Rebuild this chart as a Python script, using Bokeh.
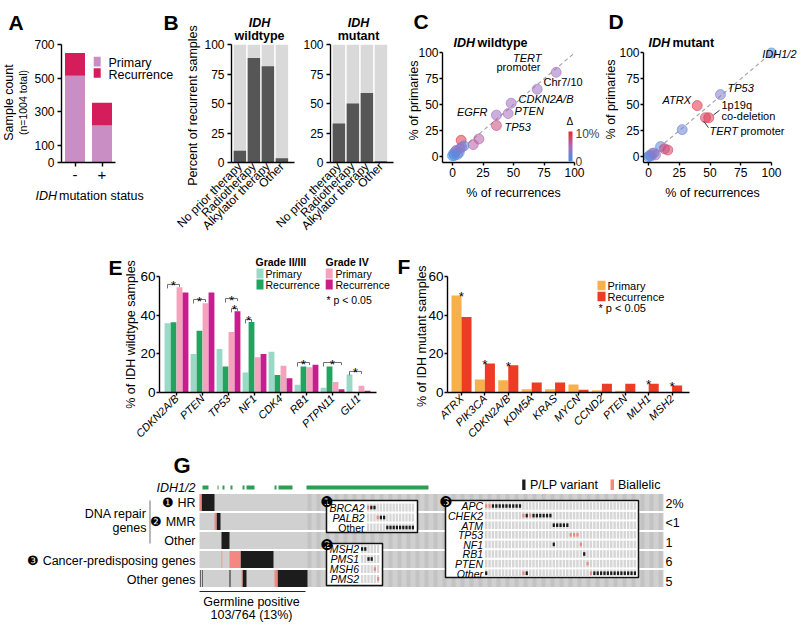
from math import pi
import numpy as np
from bokeh.plotting import figure
from bokeh.models import (Range1d, FixedTicker, Label, ColumnDataSource,
                          LinearColorMapper, ColorBar)
from bokeh.transform import transform
from bokeh.layouts import row, column
from bokeh.embed import file_html
from bokeh.resources import INLINE

FONT = "Liberation Sans"

# ---------------- data ----------------
a_status = ["-", "+"]
a_primary = [515, 220]
a_recurrence = [135, 134]
a_yticks = [0, 100, 300, 500, 700]

b_therapy = ["No prior therapy", "Radiotherapy", "Alkylator therapy", "Other"]
b_wildtype = [10, 88.5, 81.5, 3.5]
b_mutant = [33, 50, 59, 1]
b_yticks = [0, 25, 50, 75, 100]

sc_ticks = [0, 25, 50, 75, 100]
diag = [0, 100]
c_rec = [85, 69.4, 48.1, 45.6, 36, 36, 21.6, 17, 7.1, 9.3, 6, 2.5, 4, 1.5, 0, 3, 5.5, 1, 7.5]
c_prim = [81.3, 65, 51.5, 41.5, 40, 30, 17, 11.6, 15.7, 10.3, 7.6, 4.9, 2, 1, 0.8, 6, 4, 3, 9]
c_delta = [5, 5, 5, 5.5, 5, 8, 6.5, 6.5, 10, 0, 4, 3, 1, 0, 0, 5, 2, 1, 4]
d_rec = [100, 58.5, 39.6, 49, 46.3, 27.4, 9.8, 15.7, 13, 5.7, 1, 0, 2, 4.5, 3]
d_prim = [100, 59.8, 49.2, 37.5, 37.5, 26, 9.6, 6.3, 7.5, 1.6, 1, 0, 0.5, 3.5, 3]
d_delta = [1, 3, 10, 10, 9, 2, 1, 9, 8, 5, 0, 0, 1, 3, 4]

e_genes = ["CDKN2A/B", "PTEN", "TP53", "NF1", "CDK4", "RB1", "PTPN11", "GLI1"]
e_g23_primary = [35.8, 19.9, 22.5, 10.4, 21.1, 4, 2.4, 9.3]
e_g23_recurrence = [36.3, 32, 13.5, 36.5, 9, 13.5, 13.5, 0]
e_g4_primary = [54.5, 46.2, 31.3, 18.2, 13.8, 13, 5.4, 3.5]
e_g4_recurrence = [51.7, 51.7, 42, 19.9, 7.4, 14.4, 1.7, 0.9]
e_sig_gene = [0, 1, 2, 2, 3, 5, 6, 7]
e_sig_from = [0, 0, 1, 2, 0, 0, 0, 0]
e_sig_to = [2, 2, 3, 3, 1, 2, 3, 2]
e_sig_height = [55.9, 48.1, 48.6, 43.5, 37.8, 15.5, 15.5, 10.9]
e_yticks = [0, 20, 40, 60]

f_genes = ["ATRX", "PIK3CA", "CDKN2A/B", "KDM5A", "KRAS", "MYCN", "CCND2", "PTEN", "MLH1", "MSH2"]
f_primary = [50.2, 6.7, 6.4, 1.7, 1.7, 4.1, 1.2, 0.9, 0.3, 0.3]
f_recurrence = [39, 15, 14.1, 5.2, 5.2, 1.4, 4.5, 4.5, 4.5, 3.6]
f_sig = [0, 1, 2, 8, 9]

g_rows = ["\u2776 HR", "\u2777 MMR", "Other", "\u2778 Cancer-predisposing genes", "Other genes"]
g_pct = ["2%", "<1", "1", "6", "5"]
g_ncols = 464
g_positive = 106
g_idh_start = [3, 18, 23, 31, 43, 47, 75, 79, 107]
g_idh_len = [6, 1, 2, 2, 2, 8, 2, 14, 122]
g_plp_row = [0, 1, 2, 3, 4, 4, 4, 4, 4]
g_plp_start = [2, 17, 22, 41, 0.5, 2.5, 30, 43, 78]
g_plp_len = [13, 4, 8, 33, 0.6, 0.6, 1, 4, 30]
g_bi_row = [0, 1, 3, 3, 4, 4]
g_bi_start = [0, 15, 22, 30, 42, 75]
g_bi_len = [2, 2, 0.8, 11, 1, 3]

i1_genes = ["BRCA2", "PALB2", "Other"]
i1_plp = [[1, 2], [4, 5], [6, 7, 8, 9, 10, 11, 12, 13, 14]]
i1_bi = [[0], [3], []]
i2_genes = ["MSH2", "PMS1", "MSH6", "PMS2"]
i2_plp = [[0, 1], [2, 3], [], []]
i2_bi = [[], [], [4], [5]]
i3_genes = ["APC", "CHEK2", "ATM", "TP53", "NF1", "RB1", "PTEN", "Other"]
i3_plp = [[2, 3, 4, 5, 6, 7, 8, 9, 10], [12, 14, 15, 16, 17, 18, 19], [20, 21, 22, 23, 24],
          [], [20], [29], [], [0, 12] + list(range(32, 45))]
i3_bi = [[0, 1], [11, 13], [], [25, 26, 27], [28], [], [30], [11, 31]]

# ---------------- styles ----------------
A_PRIM, A_REC = "#c98fc4", "#d51d5c"
B_BG, B_FG = "#d9d9d9", "#565656"
E_COLS = ["#9ad9c7", "#21a45f", "#f5a3bc", "#cb1c8d"]
F_PRIM, F_REC = "#f9b04c", "#ee3c24"
G_PLP, G_BI, G_GRAY, G_GREEN = "#1c1c1c", "#f4877f", "#d0d0d0", "#2f9e55"
W, H = 798, 622


def make_palette():
    stops = [(0.0, (74, 144, 226)), (0.5, (168, 108, 192)), (1.0, (240, 40, 45))]
    pal = []
    for t in np.linspace(0, 1, 256):
        for (t0, c0), (t1, c1) in zip(stops[:-1], stops[1:]):
            if t0 <= t <= t1:
                u = (t - t0) / (t1 - t0)
                c = [int(round(a + (b - a) * u)) for a, b in zip(c0, c1)]
                pal.append("#%02x%02x%02x" % tuple(c))
                break
    return pal


PAL = make_palette()


class Geo:
    def __init__(s, fl, fr, ft, fb, xr, yr):
        s.fl, s.fr, s.ft, s.fb, s.xr, s.yr = fl, fr, ft, fb, xr, yr

    def x(s, px):
        return s.xr[0] + (px - s.fl) * (s.xr[1] - s.xr[0]) / (s.fr - s.fl)

    def y(s, py):
        return s.yr[0] + (s.fb - py) * (s.yr[1] - s.yr[0]) / (s.fb - s.ft)

    def w(s, d):
        return d * (s.xr[1] - s.xr[0]) / (s.fr - s.fl)

    def h(s, d):
        return d * (s.yr[1] - s.yr[0]) / (s.fb - s.ft)


def panel(cl, ct, cw, ch, fl, fr, ft, fb, xr, yr, axes=True, margin=(0, 0, 0, 0)):
    kw = {}
    if not axes:
        kw.update(x_axis_location=None, y_axis_location=None)
    p = figure(width=cw, height=ch, x_range=Range1d(*xr), y_range=Range1d(*yr),
               output_backend="svg", toolbar_location=None, title=None,
               min_border_left=fl - cl, min_border_right=cl + cw - fr,
               min_border_top=ft - ct, min_border_bottom=ct + ch - fb,
               margin=margin, **kw)
    p.grid.visible = False
    p.outline_line_color = None
    p.background_fill_color = None
    p.border_fill_color = None
    for ax in p.axis:
        ax.axis_line_color = "black"
        ax.axis_line_width = 1.4
        ax.major_tick_line_color = "black"
        ax.major_tick_line_width = 1.4
        ax.major_tick_out = 4
        ax.major_tick_in = 0
        ax.minor_tick_line_color = None
        ax.major_label_text_font = FONT
        ax.major_label_text_font_size = "12px"
        ax.major_label_text_color = "black"
        ax.major_label_standoff = 3
    return p, Geo(fl, fr, ft, fb, xr, yr)


def lab(p, g, px, py, text, size=12.5, style="normal", align="left",
        baseline="middle", angle=0, color="black", font=FONT):
    p.add_layout(Label(x=g.x(px), y=g.y(py), text=text, text_font=font,
                       text_font_size=f"{size}px", text_font_style=style,
                       text_align=align, text_baseline=baseline, angle=angle,
                       text_color=color))


# transparent full-page layer that carries the free-standing texts
ov, go = panel(0, 0, W, H, 0, W, 0, H, (0, W), (H, 0), axes=False, margin=(-H, 0, 0, 0))


def T(px, py, text, size=12.5, style="normal", align="left", baseline="middle", angle=0):
    lab(ov, go, px, py, text, size, style, align, baseline, angle)


def letter(px, py, t, size=21):
    T(px, py, t, size, "bold", baseline="alphabetic")

# ---------------- A ----------------
pa, ga = panel(0, 0, 185, 240, 61, 115, 44, 168, (-0.5, 1.5), (0, 700))
xa = list(range(len(a_status)))
a_total = [p_ + r_ for p_, r_ in zip(a_primary, a_recurrence)]
pa.vbar(x=xa, bottom=0, top=a_primary, width=0.74, fill_color=A_PRIM, line_color=None)
pa.vbar(x=xa, bottom=a_primary, top=a_total, width=0.74, fill_color=A_REC, line_color=None)
pa.yaxis.ticker = FixedTicker(ticks=a_yticks)
pa.xaxis.ticker = FixedTicker(ticks=xa)
pa.xaxis.major_label_overrides = {i: s for i, s in enumerate(a_status)}
pa.xaxis.major_label_text_font_size = "15px"
pa.rect(x=[ga.x(96.7)] * 2, y=[ga.y(62), ga.y(74)], width=ga.w(7), height=ga.h(10),
        fill_color=[A_PRIM, A_REC], line_color=None)
T(108, 62, "Primary", 12.5)
T(108, 74, "Recurrence", 12.5)
T(8, 102, "Sample count", 12.5, align="center", angle=pi / 2)
T(22, 102, "(n=1004 total)", 10.5, align="center", angle=pi / 2)
T(35, 195, "IDH", 12.5, style="italic")
T(58.5, 195, "mutation status", 12.5)
letter(8, 22, "A")
letter(163, 22, "B")

# ---------------- B ----------------
def panel_b(cl, cw, fl, ml, vals, word, cx):
    p, g = panel(cl, 0, cw, 240, fl, fl + 63, 44, 166, (-0.6, 3.9), (0, 100), margin=(0, 0, 0, ml))
    xb = list(range(len(b_therapy)))
    p.vbar(x=xb, bottom=0, top=100, width=0.89, fill_color=B_BG, line_color=None)
    p.vbar(x=xb, bottom=0, top=vals, width=0.89, fill_color=B_FG, line_color=None)
    p.yaxis.ticker = FixedTicker(ticks=b_yticks)
    p.xaxis.ticker = FixedTicker(ticks=xb)
    p.xaxis.major_label_overrides = {i: s for i, s in enumerate(b_therapy)}
    p.xaxis.major_label_orientation = pi / 4
    p.xaxis.major_tick_line_color = None
    p.xaxis.major_tick_out = 0
    p.xaxis.major_label_standoff = 2
    T(cx, 22, "IDH", 12.5, style="bold italic", align="center")
    T(cx, 35, word, 12.5, style="bold", align="center")
    return p

pbw = panel_b(170, 140, 231, -15, b_wildtype, "wildtype", 259)
pbm = panel_b(270, 130, 330, -40, b_mutant, "mutant", 358)
T(192, 105, "Percent of recurrent samples", 12.5, align="center", angle=pi / 2)

# ---------------- C / D ----------------
mapper = LinearColorMapper(palette=PAL, low=0, high=11)


def scatter_panel(cl, cw, fl, fr, fb, x0px, pxu_x, y0px, pxu_y, xs, ys, ds):
    xr = ((fl - x0px) / pxu_x, (fr - x0px) / pxu_x)
    yr = (-(fb - y0px) / pxu_y, (y0px - 28) / pxu_y)
    p, g = panel(cl, 0, cw, 240, fl, fr, 28, fb, xr, yr)
    p.xaxis.bounds = (xr[0], 100)
    p.yaxis.bounds = (yr[0], 100)
    p.xaxis.ticker = FixedTicker(ticks=sc_ticks)
    p.yaxis.ticker = FixedTicker(ticks=sc_ticks)
    for ax in p.axis:
        ax.major_label_text_font_size = "12px"
        ax.major_tick_out = 3
    p.yaxis.major_label_standoff = 1
    p.xaxis.major_label_standoff = 2
    p.line(x=diag, y=diag, line_color="#a8a8a8", line_dash="4 3", line_width=1.2)
    src = ColumnDataSource(dict(x=xs, y=ys, d=ds))
    p.scatter(x="x", y="y", source=src, size=10, fill_color=transform("d", mapper),
              line_color=transform("d", mapper), fill_alpha=0.55, line_alpha=0.6, line_width=1)
    return p, g

pc, gc = scatter_panel(400, 200, 442, 598, 168, 452, 1.22, 161, 1.23, c_rec, c_prim, c_delta)
letter(413, 21, "C")
T(453, 42, "IDH", 12.5, style="bold italic")
T(477, 42, "wildtype", 12.5, style="bold")
T(413, 100, "% of primaries", 12.5, align="center", angle=pi / 2)
T(513, 192, "% of recurrences", 12.5, align="center")
T(541, 57, "TERT", 11, style="italic", align="right")
T(540, 66.5, "promoter", 11, align="right")
T(543, 81.5, "Chr7/10", 11)
T(518, 98.5, "CDKN2A/B", 11, style="italic")
T(514, 110.5, "PTEN", 11, style="italic")
T(487, 111.5, "EGFR", 11, style="italic", align="right")
T(504, 126.5, "TP53", 11, style="italic")
T(566, 121, "\u0394", 10)
cb = ColorBar(color_mapper=mapper, location=(126, 1), orientation="vertical",
              width=4, height=30, padding=0, margin=0,
              ticker=FixedTicker(ticks=[0, 10]), major_label_overrides={0: "0", 10: "10%"},
              major_label_text_font=FONT, major_label_text_font_size="12px",
              major_tick_line_color=None, bar_line_color=None,
              background_fill_color=None, border_line_color=None, label_standoff=3)
pc.add_layout(cb)

pd_, gd = scatter_panel(600, 198, 643, 796, 167, 648, 1.23, 160, 1.22, d_rec, d_prim, d_delta)
letter(608, 21, "D")
T(648, 42, "IDH", 12.5, style="bold italic")
T(672, 42, "mutant", 12.5, style="bold")
T(610, 99, "% of primaries", 12.5, align="center", angle=pi / 2)
T(712, 192, "% of recurrences", 12.5, align="center")
T(796, 53, "IDH1/2", 11, style="italic", align="right")
T(727, 87, "TP53", 11, style="italic")
T(690.5, 99.5, "ATRX", 11, style="italic", align="right")
T(721, 104, "1p19q", 11)
T(721, 115.5, "co-deletion", 11)
T(709, 130, "TERT", 11, style="italic")
T(740, 130, "promoter", 11)
pd_.segment(x0=[gd.x(713), gd.x(703)], y0=[gd.y(111), gd.y(118)],
            x1=[gd.x(719), gd.x(708)], y1=[gd.y(105.5), gd.y(126)],
            line_color="#333333", line_width=1)

# ---------------- E ----------------
pe, ge = panel(0, 240, 390, 206, 159, 390, 250, 392, (-0.654, 8.231), (0, 73.45))
offs = [-0.346, -0.115, 0.115, 0.346]
e_series = [e_g23_primary, e_g23_recurrence, e_g4_primary, e_g4_recurrence]
xe = list(range(len(e_genes)))
for k, (vals, col) in enumerate(zip(e_series, E_COLS)):
    pe.vbar(x=[i + offs[k] for i in xe], bottom=0, top=vals, width=0.225,
            fill_color=col, line_color=None)


def style_ef(p, xb, genes):
    p.xaxis.bounds = xb
    p.yaxis.bounds = (0, 60)
    p.yaxis.ticker = FixedTicker(ticks=e_yticks)
    p.yaxis.major_label_text_font_size = "13.5px"
    p.yaxis.major_tick_out = 3
    p.yaxis.major_label_standoff = 1
    p.xaxis.ticker = FixedTicker(ticks=list(range(len(genes))))
    p.xaxis.major_label_overrides = {i: s for i, s in enumerate(genes)}
    p.xaxis.major_label_orientation = pi / 4
    p.xaxis.major_label_text_font_style = "italic"
    p.xaxis.major_label_text_font_size = "11px"
    p.xaxis.major_tick_out = 3
    p.xaxis.major_label_standoff = 1


style_ef(pe, (-0.654, 7.692), e_genes)
bxs, bys = [], []
for gi, a, b, yv in zip(e_sig_gene, e_sig_from, e_sig_to, e_sig_height):
    xa_, xb_ = gi + offs[a], gi + offs[b]
    bxs.append([xa_, xa_, xb_, xb_])
    bys.append([yv - ge.h(4), yv, yv, yv - ge.h(2.5)])
    pe.add_layout(Label(x=(xa_ + xb_) / 2, y=yv + ge.h(-1.5), text="*", text_font=FONT,
                        text_font_size="13.5px", text_align="center",
                        text_baseline="alphabetic", text_color="black"))
pe.multi_line(xs=bxs, ys=bys, line_color="#707070", line_width=1)
pe.rect(x=[ge.x(259.5), ge.x(259.5), ge.x(328.7), ge.x(328.7)],
        y=[ge.y(273), ge.y(284), ge.y(273), ge.y(284)],
        width=ge.w(7), height=ge.h(10), fill_color=E_COLS, line_color=None)
T(255, 261, "Grade II/III", 10.5, style="bold")
T(265, 273, "Primary", 10.5)
T(265, 284, "Recurrence", 10.5)
T(325, 261, "Grade IV", 10.5, style="bold")
T(335, 273, "Primary", 10.5)
T(335, 284, "Recurrence", 10.5)
T(326, 299, "* p < 0.05", 10.5)
T(130, 334, "% of IDH wildtype samples", 12.5, align="center", angle=pi / 2)
letter(108, 267, "E")

# ---------------- F ----------------
pf, gf = panel(390, 240, 408, 206, 447, 798, 250, 392,
               (-0.598, (798 - 461) / 23.4), (0, 73.45))
xf = list(range(len(f_genes)))
pf.vbar(x=[i - 0.214 for i in xf], bottom=0, top=f_primary, width=0.43,
        fill_color=F_PRIM, line_color=None)
pf.vbar(x=[i + 0.214 for i in xf], bottom=0, top=f_recurrence, width=0.43,
        fill_color=F_REC, line_color=None)
style_ef(pf, (-0.598, 9.744), f_genes)
for i in f_sig:
    top = max(f_primary[i], f_recurrence[i])
    pf.add_layout(Label(x=i, y=top + 3.2 + gf.h(-7), text="*", text_font=FONT,
                        text_font_size="13.5px", text_align="center",
                        text_baseline="alphabetic", text_color="black"))
pf.rect(x=[gf.x(601), gf.x(601)], y=[gf.y(285), gf.y(296)], width=gf.w(8),
        height=gf.h(9.5), fill_color=[F_PRIM, F_REC], line_color=None)
T(607, 285, "Primary", 11)
T(607, 296, "Recurrence", 11)
T(598, 307, "* p < 0.05", 11)
T(421, 334, "% of  IDH mutant samples", 12.5, align="center", angle=pi / 2)
letter(397, 266, "F")

# ---------------- G ----------------
pg, gg = panel(0, 446, W, 176, 0, W, 446, 622, (0 - 199, W - 199),
               ((622 - 502) / 19, (446 - 502) / 19), axes=False)
RH = 0.447
nrow = len(g_rows)
pg.quad(left=0, right=g_ncols, top=[r - RH for r in range(nrow)],
        bottom=[r + RH for r in range(nrow)], fill_color=G_GRAY, line_color=None)
band = np.arange(g_positive + 2, g_ncols - 3, 9.0)
bl, br, bt, bb = [], [], [], []
for r in range(nrow):
    bl += list(band)
    br += list(band + 4)
    bt += [r - RH] * len(band)
    bb += [r + RH] * len(band)
pg.quad(left=bl, right=br, top=bt, bottom=bb, fill_color="#c3c3c3", line_color=None)
pg.quad(left=g_plp_start, right=[s + l for s, l in zip(g_plp_start, g_plp_len)],
        top=[r - RH for r in g_plp_row], bottom=[r + RH for r in g_plp_row],
        fill_color=G_PLP, line_color=None)
pg.quad(left=g_bi_start, right=[s + l for s, l in zip(g_bi_start, g_bi_len)],
        top=[r - RH for r in g_bi_row], bottom=[r + RH for r in g_bi_row],
        fill_color=G_BI, line_color=None)
idh_y = gg.y(487)
pg.quad(left=g_idh_start, right=[s + l for s, l in zip(g_idh_start, g_idh_len)],
        top=idh_y - 0.11, bottom=idh_y + 0.11, fill_color=G_GREEN, line_color=None)

INSETS = [
    dict(box=(326, 500, 417, 532), labr=364, x0=366, pitch=3.2, y0=507, dy=10, ch=8,
         num="\u2776", genes=i1_genes, plp=i1_plp, bi=i1_bi, ncols=15,
         ital=[True, True, False]),
    dict(box=(326, 543, 382, 585), labr=358.5, x0=360, pitch=3.2, y0=548.5, dy=10, ch=8,
         num="\u2777", genes=i2_genes, plp=i2_plp, bi=i2_bi, ncols=6,
         ital=[True, True, True, True]),
    dict(box=(445, 500, 638, 577), labr=482.5, x0=484, pitch=3.38, y0=505.5, dy=9.6, ch=7.6,
         num="\u2778", genes=i3_genes, plp=i3_plp, bi=i3_bi, ncols=45,
         ital=[True] * 8),
]
for ins in INSETS:
    l, t, r, b = ins["box"]
    pg.quad(left=gg.x(l), right=gg.x(r), top=gg.y(t), bottom=gg.y(b),
            fill_color="white", line_color="#111111", line_width=1.5)
    cl_, cr_, ct_, cb_ = [], [], [], []
    dl, dr, dt, db, dc = [], [], [], [], []
    for ri, gene in enumerate(ins["genes"]):
        yc = ins["y0"] + ri * ins["dy"]
        for j in range(ins["ncols"]):
            xl = ins["x0"] + j * ins["pitch"]
            cl_.append(gg.x(xl + 0.45)); cr_.append(gg.x(xl + ins["pitch"] - 0.45))
            ct_.append(gg.y(yc - ins["ch"] / 2)); cb_.append(gg.y(yc + ins["ch"] / 2))
        for kind, cols in ((G_PLP, ins["plp"][ri]), (G_BI, ins["bi"][ri])):
            for j in cols:
                xc = ins["x0"] + (j + 0.5) * ins["pitch"]
                dl.append(gg.x(xc - 1.1)); dr.append(gg.x(xc + 1.1))
                dt.append(gg.y(yc - 1.8)); db.append(gg.y(yc + 1.8)); dc.append(kind)
        lab(pg, gg, ins["labr"], yc + 0.3, gene, 10.5,
            style="italic" if ins["ital"][ri] else "normal", align="right")
    pg.quad(left=cl_, right=cr_, top=ct_, bottom=cb_, fill_color="#d6d6d6", line_color=None)
    pg.quad(left=dl, right=dr, top=dt, bottom=db, fill_color=dc, line_color=None)
    lab(pg, gg, l + 0.5, t + 1, ins["num"], 15, align="center", font="DejaVu Sans")

row_py = [502, 521.5, 540.5, 560, 579.5]
for name, py, pct in zip(g_rows, row_py, g_pct):
    lab(pg, gg, 195, py, name, 12.5, align="right")
    lab(pg, gg, 665, py + 1, pct, 12.5)
lab(pg, gg, 195, 487, "IDH1/2", 12.5, style="italic", align="right")
lab(pg, gg, 146, 513.5, "DNA repair", 12.5, align="right")
lab(pg, gg, 146, 527, "genes", 12.5, align="right")
pg.segment(x0=[gg.x(149.5), gg.x(199)], y0=[gg.y(500), gg.y(591)],
           x1=[gg.x(149.5), gg.x(305)], y1=[gg.y(543), gg.y(591)],
           line_color=["#888888", "#222222"], line_width=1.2)
pg.quad(left=[gg.x(521.7), gg.x(610)], right=[gg.x(525), gg.x(613.5)],
        top=gg.y(479), bottom=gg.y(489.5), fill_color=[G_PLP, G_BI], line_color=None)
lab(pg, gg, 529.5, 484.5, "P/LP variant", 12.5)
lab(pg, gg, 617.5, 484.5, "Biallelic", 12.5)
lab(pg, gg, 251, 601.5, "Germline positive", 12.5, align="center")
lab(pg, gg, 251, 614, "103/764 (13%)", 12.5, align="center")
lab(pg, gg, 173, 465, "G", 22, style="bold", baseline="alphabetic")

layout = column(row(pa, pbw, pbm, pc, pd_), row(pe, pf), pg, ov)
open("out.html", "w").write(file_html(layout, INLINE))
